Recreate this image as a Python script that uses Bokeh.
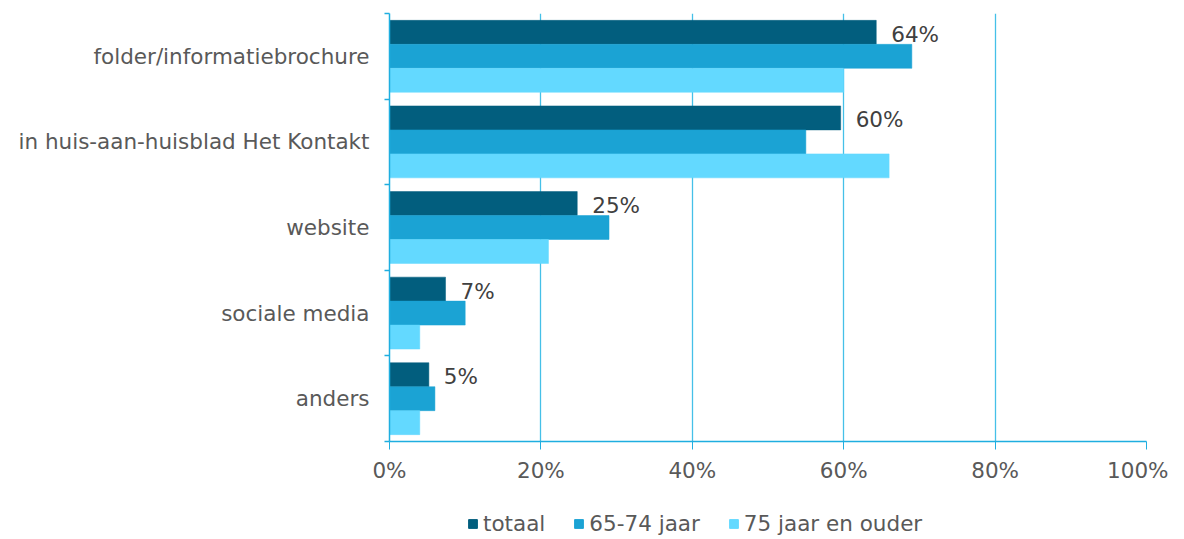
from bokeh.plotting import figure
from bokeh.models import (ColumnDataSource, Range1d, FixedTicker, Legend, LegendItem,
                          LabelSet)
from bokeh.layouts import column
from bokeh.core.properties import value
from bokeh.embed import file_html
from bokeh.resources import INLINE

categories = ["folder/informatiebrochure", "in huis-aan-huisblad Het Kontakt",
              "website", "sociale media", "anders"]
series = ["totaal", "65-74 jaar", "75 jaar en ouder"]
totaal = [64.3, 59.6, 24.8, 7.4, 5.2]
jaar_65_74 = [69, 55, 29, 10, 6]
jaar_75_plus = [60, 66, 21, 4, 4]
x_ticks = [0, 20, 40, 60, 80, 100]

colors = ["#025e7e", "#1ba3d4", "#63d9ff"]
axis_col = "#1faee0"
grid_col = "#45c0e8"
text_col = "#595959"
FONT = "DejaVu Sans"
FS = "21.5px"

p = figure(width=1168, height=500, output_backend="svg", toolbar_location=None,
           x_range=Range1d(0, 100), y_range=Range1d(len(categories), 0),
           min_border_left=389, min_border_right=22, min_border_top=13,
           min_border_bottom=59, outline_line_color=None)

centers = [i + 0.5 for i in range(len(categories))]
offsets = [-0.28, 0.0, 0.28]
renderers = []
for vals, off, col in zip([totaal, jaar_65_74, jaar_75_plus], offsets, colors):
    src = ColumnDataSource(dict(y=[c + off for c in centers], right=list(vals)))
    r = p.hbar(y="y", left=0, right="right", height=0.28, source=src,
               fill_color=col, line_color=col, line_width=0.5)
    renderers.append(r)

lab_src = ColumnDataSource(dict(x=totaal, y=[c + offsets[0] for c in centers],
                                t=[f"{round(v)}%" for v in totaal]))
p.add_layout(LabelSet(x="x", y="y", text="t", source=lab_src, x_offset=15, y_offset=-2,
                      text_baseline="middle", text_font=value(FONT), text_font_size=FS,
                      text_color="#404040"))

# x axis
p.xaxis.ticker = FixedTicker(ticks=x_ticks)
p.xaxis.major_label_overrides = {t: f"{t}%" for t in x_ticks}
p.xaxis.axis_line_color = axis_col
p.xaxis.axis_line_width = 1.5
p.xaxis.major_tick_line_color = axis_col
p.xaxis.major_tick_out = 8
p.xaxis.major_tick_in = 0
p.xaxis.minor_tick_line_color = None
p.xaxis.major_label_standoff = 8
p.xaxis.major_label_text_font = FONT
p.xaxis.major_label_text_font_size = FS
p.xaxis.major_label_text_color = text_col

# y axis
p.yaxis.ticker = FixedTicker(ticks=centers, minor_ticks=list(range(len(categories) + 1)))
p.yaxis.major_label_overrides = {c: cat for c, cat in zip(centers, categories)}
p.yaxis.axis_line_color = axis_col
p.yaxis.axis_line_width = 1.5
p.yaxis.major_tick_line_color = None
p.yaxis.minor_tick_line_color = axis_col
p.yaxis.minor_tick_line_width = 1.5
p.yaxis.minor_tick_out = 5
p.yaxis.minor_tick_in = 0
p.yaxis.major_label_standoff = 14
p.yaxis.major_label_text_font = FONT
p.yaxis.major_label_text_font_size = FS
p.yaxis.major_label_text_color = text_col

p.xgrid.ticker = FixedTicker(ticks=x_ticks[1:])
p.xgrid.grid_line_color = grid_col
p.xgrid.grid_line_width = 1.3
p.ygrid.grid_line_color = None

# legend figure (frames are aligned with the main figure in the column)
lf = figure(width=1168, height=39, output_backend="svg", toolbar_location=None,
            x_range=Range1d(0, 1), y_range=Range1d(0, 1), min_border=0,
            outline_line_color=None)
lf.axis.visible = False
lf.grid.visible = False
leg_r = []
for col in colors:
    leg_r.append(lf.hbar(y=[-5], left=[0], right=[1], height=0.5,
                         fill_color=col, line_color=col))
legend = Legend(items=[LegendItem(label=s, renderers=[r], index=0) for s, r in zip(series, leg_r)],
                orientation="horizontal", location=(78, 3),
                glyph_width=11, glyph_height=11, label_standoff=5, spacing=28,
                label_text_font=FONT, label_text_font_size=FS,
                label_text_color=text_col, border_line_color=None,
                background_fill_alpha=0, padding=0, margin=0)
lf.add_layout(legend, "center")

layout = column(p, lf, spacing=0)
open("out.html", "w").write(file_html(layout, INLINE))
